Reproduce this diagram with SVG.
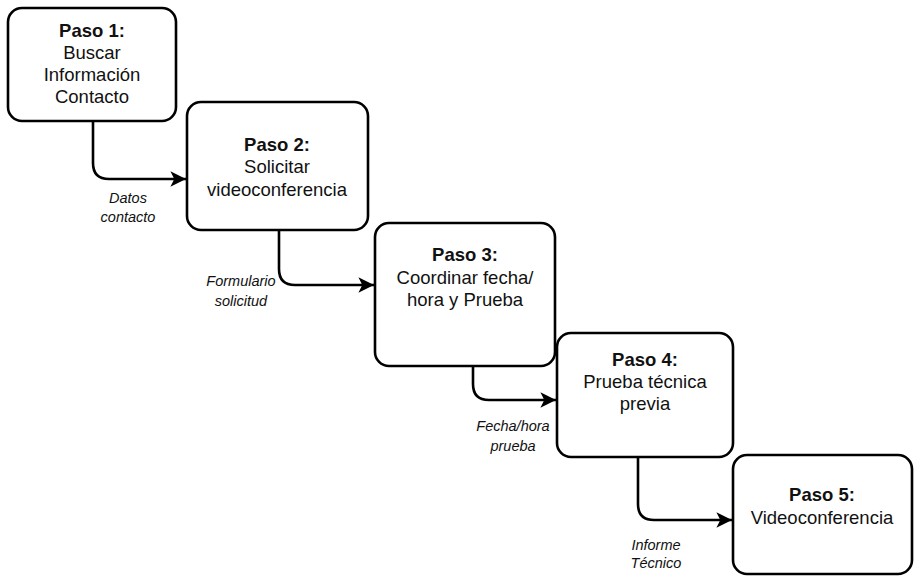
<svg xmlns="http://www.w3.org/2000/svg" width="915" height="583" viewBox="0 0 915 583">
<defs>
<style>
.box{fill:#fff;stroke:#000;stroke-width:2.6}
.t{font-family:"Liberation Sans",Arial,sans-serif;font-size:18.5px;text-anchor:middle;fill:#111}
.b{font-weight:bold}
.lbl{font-family:"Liberation Sans",Arial,sans-serif;font-size:14.5px;font-style:italic;text-anchor:middle;fill:#111}
.c{fill:none;stroke:#000;stroke-width:2.6}
</style>
<marker id="ah" viewBox="0 0 10 10" refX="10" refY="5" markerWidth="6" markerHeight="6" orient="auto" markerUnits="strokeWidth">
<path d="M0,0 L10,5 L0,10 L2.5,5 Z" fill="#000"/>
</marker>
</defs>
<rect width="915" height="583" fill="#fff"/>
<g id="connectors">
<path class="c" d="M93,121 V163 Q93,179 109,179 H186" marker-end="url(#ah)"/>
<path class="c" d="M279,230 V269 Q279,285 295,285 H374" marker-end="url(#ah)"/>
<path class="c" d="M473,366 V384 Q473,400 489,400 H556" marker-end="url(#ah)"/>
<path class="c" d="M638,457 V504 Q638,520 654,520 H732" marker-end="url(#ah)"/>
</g>
<g id="label1"><text class="lbl" x="128" y="203">Datos</text><text class="lbl" x="128" y="222">contacto</text></g>
<g id="label2"><text class="lbl" x="241" y="286">Formulario</text><text class="lbl" x="241" y="306">solicitud</text></g>
<g id="label3"><text class="lbl" x="513" y="431">Fecha/hora</text><text class="lbl" x="513" y="451">prueba</text></g>
<g id="label4"><text class="lbl" x="656" y="550">Informe</text><text class="lbl" x="656" y="568">Técnico</text></g>
<g id="node1">
<rect class="box" x="8" y="8" width="168" height="113" rx="14"/>
<text class="t b" x="92" y="37">Paso 1:</text>
<text class="t" x="92" y="59">Buscar</text>
<text class="t" x="92" y="81">Información</text>
<text class="t" x="92" y="103">Contacto</text>
</g>
<g id="node2">
<rect class="box" x="187" y="102" width="181" height="128" rx="14"/>
<text class="t b" x="277" y="151">Paso 2:</text>
<text class="t" x="277" y="173">Solicitar</text>
<text class="t" x="277" y="196">videoconferencia</text>
</g>
<g id="node3">
<rect class="box" x="375" y="223" width="180" height="143" rx="14"/>
<text class="t b" x="465" y="261">Paso 3:</text>
<text class="t" x="465" y="284">Coordinar fecha/</text>
<text class="t" x="465" y="306">hora y Prueba</text>
</g>
<g id="node4">
<rect class="box" x="557" y="333" width="176" height="124" rx="14"/>
<text class="t b" x="645" y="366">Paso 4:</text>
<text class="t" x="645" y="388">Prueba técnica</text>
<text class="t" x="645" y="410">previa</text>
</g>
<g id="node5">
<rect class="box" x="733" y="455" width="179" height="119" rx="14"/>
<text class="t b" x="822" y="501">Paso 5:</text>
<text class="t" x="822" y="524">Videoconferencia</text>
</g>
</svg>
